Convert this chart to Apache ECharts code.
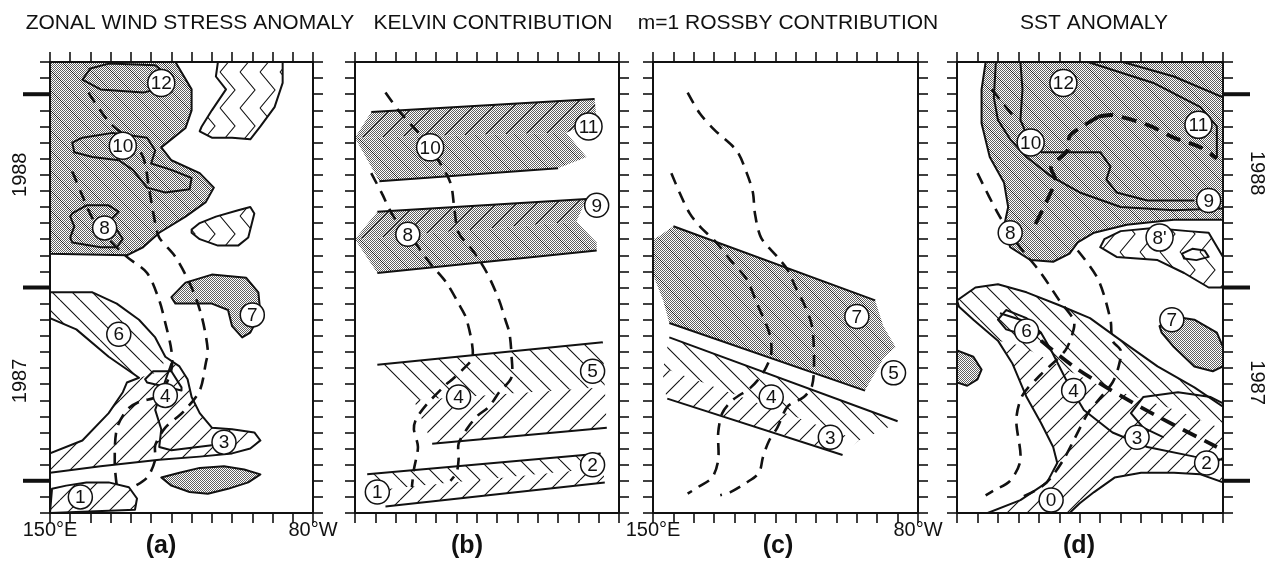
<!DOCTYPE html>
<html>
<head>
<meta charset="utf-8">
<script src="https://cdn.jsdelivr.net/npm/echarts@6/dist/echarts.min.js"></script>
<style>
  html, body { margin: 0; padding: 0; background: #fff; }
  #chart { width: 1265px; height: 562px; }
</style>
</head>
<body>
<div id="chart"></div>
<script>
// ---------------- axes / labels ----------------
const LON_MIN = 150, LON_MAX = 280, LON_STEP = 10;   // 150°E .. 80°W
const MON_MIN = -2, MON_MAX = 26, MON_STEP = 1;      // months counted from Jan 1987
const lonEnds = [[150, '150°E'], [280, '80°W']];
const yearStarts = [0, 12, 24];
const yearLabelsLeft = [[6.2, '1987'], [19.0, '1988']];
const yearLabelsRight = [[6.1, '1987'], [19.1, '1988']];
const panelTitles = ['ZONAL WIND STRESS ANOMALY', 'KELVIN CONTRIBUTION', 'm=1 ROSSBY CONTRIBUTION', 'SST ANOMALY'];
const panelLetters = ['(a)', '(b)', '(c)', '(d)'];

// ---------------- (a) zonal wind stress anomaly ----------------
const aShade = [[150,26.0],[212,26.0],[220,24.3],[220,23.0],[217,21.9],[205,20.7],[210,19.9],[224,19.1],[231,18.2],[227,17.3],[217,16.4],[204,15.4],[196,14.5],[188,14.0],[150,14.1]];
const aLoop12 = [[166,24.9],[170,25.6],[179,25.9],[202,25.8],[210,25.0],[206,24.4],[196,24.1],[175,24.3]];
const aLoop10 = [[161,21.0],[166,21.3],[181,21.6],[198,21.3],[202,20.5],[200,19.7],[210,19.3],[220,18.8],[219,18.1],[207,17.9],[198,18.2],[191,19.3],[184,19.9],[171,20.1],[162,20.4]];
const aLoop8 = [[161,16.6],[168,17.1],[179,17.1],[184,16.7],[180,16.2],[186,15.0],[183,14.5],[175,14.5],[161,14.8],[160,15.1],[162,15.8],[160,16.4]];
const aHatch = [[150,11.7],[158,11.7],[171,11.7],[183,11.0],[194,10.0],[202,8.9],[207,7.7],[214,7.1],[218,6.3],[220,5.2],[224,4.2],[230,3.3],[240,3.2],[251,3.0],[254,2.5],[249,2.0],[240,1.7],[224,1.5],[204,1.3],[175,0.9],[150,0.5]];
const aArm = [[150,11.7],[158,11.7],[171,11.7],[183,11.0],[194,10.0],[202,8.9],[207,7.7],[205,6.8],[194,6.4],[179,7.7],[163,9.4],[150,10.1]];
const aHole = [[150,10.1],[163,9.4],[179,7.7],[194,6.4],[188,6.1],[186,5.5],[179,4.2],[166,2.5],[150,1.7]];
const aLine3 = [[210,7.3],[202,4.4],[205,3.2],[204,2.1],[210,1.9],[230,2.2]];
const aLoop4 = [[197,6.3],[201,6.8],[210,6.8],[215,5.8],[215,5.6],[198,6.1]];
const aBlob1 = [[151,-0.5],[158,-0.3],[168,-0.1],[179,-0.1],[189,-0.4],[193,-1.1],[192,-1.8],[150,-2.0]];
const aLens = [[205,0.2],[214,0.5],[224,0.8],[236,0.9],[246,0.7],[254,0.4],[248,-0.1],[238,-0.5],[228,-0.8],[219,-0.7],[210,-0.3]];
const aBlob7 = [[210,11.4],[217,12.3],[230,12.8],[247,12.6],[253,11.7],[254,10.4],[249,9.2],[245,8.9],[240,9.6],[238,10.6],[230,11.0],[220,11.0],[212,11.0]];
const aBlobMid = [[220,15.6],[224,16.0],[232,16.4],[243,16.8],[249,17.0],[251,16.6],[248,15.1],[243,14.6],[233,14.6],[224,15.0],[220,15.4]];
const aBlobTop = [[233,26.0],[265,26.0],[265,24.7],[261,23.2],[254,22.0],[249,21.2],[240,21.3],[230,21.3],[224,21.7],[225,22.0],[230,23.0],[237,24.3],[232,25.1]];
const aDashW = [[161,19.2],[166,17.7],[171,16.3],[179,15.0],[188,13.9],[198,12.9],[204,11.2],[207,9.8],[210,8.1],[210,6.9],[204,5.3],[194,4.9],[188,4.4],[183,3.2],[182,1.1],[183,-0.3]];
const aDashE = [[169,24.1],[179,22.3],[189,21.2],[196,20.1],[199,18.1],[202,16.0],[204,15.1],[212,13.9],[220,12.0],[225,10.2],[228,8.1],[227,7.3],[224,5.6],[216,4.3],[207,3.3],[202,2.2],[202,1.3],[198,0.2],[191,-0.4]];
const aLabels = [[205,24.7,'12'],[186,20.8,'10'],[177,15.7,'8'],[250,10.3,'7'],[184,9.1,'6'],[207,5.3,'4'],[236,2.4,'3'],[165,-1.0,'1']];

// ---------------- (b) Kelvin contribution ----------------
const b11Up = [[158,22.9],[268,23.7],[269,22.4],[254,21.6],[150,21.3]];
const b11Lo = [[150,21.3],[254,21.6],[264,20.1],[250,19.4],[162,18.6]];
const b11Top = [[158,22.9],[268,23.7]];
const b11Bot = [[162,18.6],[250,19.4]];
const b9Up = [[161,16.7],[264,17.5],[259,16.1],[150,15.0]];
const b9Lo = [[150,15.0],[259,16.1],[269,14.8],[269,14.3],[161,12.9]];
const b9Top = [[161,16.7],[264,17.5]];
const b9Bot = [[161,12.9],[269,14.3]];
const b5Up = [[161,7.2],[272,8.6],[273,5.8],[179,5.0]];
const b5Lo = [[179,5.0],[273,5.8],[274,3.3],[188,2.3]];
const b5Top = [[161,7.2],[272,8.6]];
const b5Bot = [[188,2.3],[274,3.3]];
const b2Up = [[156,0.4],[271,1.7],[272,0.8],[158,-0.6]];
const b2Lo = [[158,-0.6],[272,0.8],[273,-0.1],[166,-1.6]];
const b2Top = [[156,0.4],[271,1.7]];
const b2Bot = [[165,-1.6],[273,-0.1]];
const bDashE = [[165,24.1],[172,22.9],[182,21.5],[190,20.1],[197,18.5],[199,16.8],[201,15.4],[208,14.3],[215,12.9],[221,11.2],[224,10.0],[226,9.2],[227,7.9],[227,6.4],[221,5.5],[216,4.6],[210,4.0],[205,3.2],[201,2.3],[201,1.3],[200,0.5],[197,0.0]];
const bDashW = [[158,19.1],[163,17.9],[169,16.4],[176,15.4],[187,13.5],[195,12.3],[201,11.0],[205,10.0],[208,7.7],[203,6.9],[198,6.3],[195,6.0],[185,4.7],[180,3.8],[179,3.2],[181,2.1],[179,0.7],[178,-0.4]];
const bLabels = [[265,22.0,'11'],[187,20.7,'10'],[269,17.1,'9'],[176,15.3,'8'],[267,6.8,'5'],[201,5.2,'4'],[267,1.0,'2'],[161,-0.7,'1']];

// ---------------- (c) m=1 Rossby contribution ----------------
const cShade = [[160,15.8],[259,11.2],[263,9.6],[269,8.3],[263,7.6],[254,5.6],[158,9.8],[155,11.2],[150,12.8],[150,15.0],[152,15.1]];
const cShadeTop = [[160,15.8],[259,11.2]];
const cShadeBot = [[158,9.8],[254,5.6]];
const cUp = [[158,8.9],[270,3.7],[265,3.3],[251,2.5],[155,7.0]];
const cLo = [[155,7.0],[251,2.5],[243,1.7],[157,5.1],[155,5.9]];
const cTop = [[158,8.9],[270,3.7]];
const cBot = [[157,5.1],[243,1.6]];
const cDashE = [[167,24.1],[173,22.8],[180,21.8],[191,20.5],[196,19.1],[199,17.9],[200,16.6],[203,15.1],[211,13.9],[216,13.1],[220,12.0],[224,11.0],[228,9.6],[229,7.3],[228,5.9],[224,5.2],[216,4.6],[211,3.3],[207,2.5],[204,1.5],[202,0.5],[196,-0.1],[188,-0.7],[183,-0.9]];
const cDashW = [[159,19.1],[163,17.9],[168,16.6],[173,15.8],[181,14.8],[188,13.7],[196,12.5],[201,11.0],[207,9.2],[208,7.9],[204,6.7],[198,5.8],[189,5.0],[184,4.2],[182,3.0],[182,1.3],[179,0.2],[172,-0.4],[167,-0.8]];
const cLabels = [[250,10.2,'7'],[268,6.7,'5'],[208,5.2,'4'],[237,2.7,'3']];

// ---------------- (d) SST anomaly ----------------
const dShade = [[164,26.0],[280,26.0],[280,16.2],[256,16.2],[233,15.9],[217,15.4],[209,14.8],[205,14.1],[197,13.6],[186,13.7],[176,14.5],[173,15.8],[175,17.0],[173,18.5],[166,20.1],[162,22.2],[162,24.3]];
const dC1 = [[181,26.0],[182,24.3],[181,22.4],[184,21.5]];
const dC2 = [[191,20.4],[220,20.4],[225,19.5],[223,18.7],[228,17.9],[243,17.4],[266,17.4]];
const dC3 = [[169,26.0],[168,23.8],[170,22.4],[176,21.2],[184,20.1],[196,18.9],[210,17.9],[230,17.0],[256,16.8],[280,16.9]];
const dC4 = [[214,26.0],[246,24.7],[269,23.2],[277,22.0],[277,20.1]];
const dC5 = [[231,26.0],[256,25.1],[280,23.8]];
const dDash11 = [[219,22.6],[226,22.7],[243,22.1],[256,21.3],[269,20.7],[277,20.0]];
const dDash10 = [[219,22.6],[210,21.9],[205,21.4],[204,20.5],[196,19.5],[198,18.7],[194,17.4],[187,15.6]];
const dDash12 = [[167,24.3],[179,22.4]];
const d8p = [[222,15.0],[230,15.5],[246,15.7],[263,15.5],[273,15.4],[280,13.9],[280,12.0],[273,12.0],[261,12.9],[248,13.7],[228,13.9],[220,14.5]];
const d8pLoop = [[260,14.1],[265,14.4],[271,14.3],[273,13.9],[267,13.7],[261,13.8]];
const dHatch = [[150,11.2],[159,12.0],[170,12.2],[184,11.7],[200,10.9],[215,10.1],[228,8.9],[248,7.1],[266,5.8],[280,4.6],[280,-0.1],[269,0.4],[256,0.5],[240,0.5],[227,0.2],[217,-0.7],[210,-1.4],[205,-2.0],[165,-2.0],[181,-1.2],[194,-0.1],[199,1.1],[197,2.1],[191,3.6],[184,5.2],[177,7.3],[170,8.7],[158,10.0],[151,10.8]];
const dTongue = [[150,11.2],[159,12.0],[170,12.2],[184,11.7],[200,10.9],[215,10.1],[228,8.9],[248,7.1],[266,5.8],[280,4.6],[280,3.2],[259,4.3],[240,5.1],[220,5.9],[205,6.8],[193,7.6],[181,8.4],[170,8.7],[158,10.0],[151,10.8]];
const dL1 = [[171,10.4],[181,10.0],[191,9.2],[196,8.1],[204,6.1],[212,4.4],[226,3.0],[243,2.1],[266,1.5],[280,1.3]];
const dL2 = [[251,2.7],[241,3.3],[235,4.2],[241,5.2],[258,5.5],[274,5.2],[280,4.8]];
const d6Loop = [[170,10.0],[174,10.6],[184,10.1],[191,9.2],[187,8.9],[174,9.4]];
const d7Blob = [[249,9.6],[256,10.2],[266,10.0],[277,9.2],[280,8.3],[280,7.1],[275,6.8],[266,7.1],[256,8.3],[250,9.2]];
const dWestBlob = [[150,8.1],[158,7.7],[162,6.9],[160,6.3],[155,5.9],[150,6.1]];
const dDashTrack = [[191,8.7],[207,7.1],[223,5.8],[248,4.0],[277,2.1]];
const dDashW = [[160,19.1],[170,16.6],[179,14.8],[191,12.9],[200,11.2],[207,10.0],[207,9.4],[203,8.1],[191,6.6],[182,5.3],[179,3.8],[181,1.3],[176,0.0],[168,-0.6],[164,-0.9]];
const dDashE = [[209,14.3],[219,12.5],[225,10.0],[226,8.7],[230,8.1],[229,7.1],[226,6.1],[219,5.0],[214,4.2],[207,2.5],[202,1.3],[196,0.2],[191,-0.4],[182,-1.0]];
const dLabels = [[202,24.7,'12'],[268,22.1,'11'],[186,21.0,'10'],[273,17.4,'9'],[176,15.4,'8'],[249,15.1,"8'"],[255,10.0,'7'],[184,9.3,'6'],[207,5.6,'4'],[238,2.7,'3'],[272,1.1,'2'],[196,-1.2,'0']];

// ---------------- styling ----------------
const INK = '#111';
const FONT = '"Liberation Sans", Arial, sans-serif';
const PANEL_LEFT = [50, 355, 653, 957];
const PANEL_WIDTH = [263, 264, 265, 266];
const PANEL_TOP = 62, PANEL_HEIGHT = 451;
const TITLE_X = [190, 493, 788, 1094];
const LETTER_X = [161, 467, 778, 1079];

function makeTile(w, h, paint) {
  const c = document.createElement('canvas');
  c.width = w; c.height = h;
  paint(c.getContext('2d'), w, h);
  return { image: c, repeat: 'repeat' };
}
function paintWhite(g, w, h) { g.fillStyle = '#fff'; g.fillRect(0, 0, w, h); }
function paintStipple(g, w, h) {
  paintWhite(g, w, h);
  g.fillStyle = '#606060';
  for (let y = 0; y < h; y++) for (let x = y % 2; x < w; x += 2) g.fillRect(x, y, 1, 1);
}
function paintDiag(dir, color, lw) {
  return (g, w, h) => {
    g.strokeStyle = color; g.lineWidth = lw; g.beginPath();
    for (let k = -1; k <= 1; k++) {
      if (dir > 0) { g.moveTo(k * w, h); g.lineTo(k * w + w, 0); }
      else { g.moveTo(k * w, 0); g.lineTo(k * w + w, h); }
    }
    g.stroke();
  };
}
function paintChevron(g, w, h) {
  g.strokeStyle = INK; g.lineWidth = 1.1; g.beginPath();
  for (let k = -1; k <= 1; k++) { g.moveTo(k * w, 0); g.lineTo(k * w + w * 0.75, h / 2); g.lineTo(k * w, h); }
  g.stroke();
}
const both = (...fs) => (g, w, h) => fs.forEach(f => f(g, w, h));
const PAT = {
  white: '#fff',
  stipple: makeTile(4, 4, paintStipple),
  stippleBack: makeTile(20, 20, both(paintStipple, paintDiag(-1, '#222', 1))),
  stippleFwd: makeTile(20, 20, both(paintStipple, paintDiag(1, '#222', 1))),
  back: makeTile(20, 20, both(paintWhite, paintDiag(-1, INK, 1.1))),
  fwd: makeTile(20, 20, both(paintWhite, paintDiag(1, INK, 1.1))),
  chev: makeTile(20, 36, both(paintWhite, paintChevron))
};

// what each panel draws
const panels = [
  {
    fills: [[aShade,'stippleBack'],[aHatch,'fwd'],[aArm,'back'],[aHole,'white'],[aBlob1,'fwd'],[aLens,'stipple'],[aBlob7,'stipple'],[aBlobMid,'chev'],[aBlobTop,'chev']],
    outlines: [aShade, aHatch, aHole, aBlob1, aLens, aBlob7, aBlobMid, aBlobTop, aLoop12, aLoop10, aLoop8, aLoop4],
    lines: [aLine3],
    dashed: [aDashW, aDashE],
    heavy: [],
    labels: aLabels
  },
  {
    fills: [[b11Up,'stippleFwd'],[b11Lo,'stippleBack'],[b9Up,'stippleFwd'],[b9Lo,'stippleBack'],[b5Up,'back'],[b5Lo,'fwd'],[b2Up,'back'],[b2Lo,'fwd']],
    outlines: [],
    lines: [b11Top, b11Bot, b9Top, b9Bot, b5Top, b5Bot, b2Top, b2Bot],
    dashed: [bDashE, bDashW],
    heavy: [],
    labels: bLabels
  },
  {
    fills: [[cShade,'stippleBack'],[cUp,'back'],[cLo,'fwd']],
    outlines: [],
    lines: [cShadeTop, cShadeBot, cTop, cBot],
    dashed: [cDashE, cDashW],
    heavy: [],
    labels: cLabels
  },
  {
    fills: [[dShade,'stippleBack'],[dHatch,'fwd'],[dTongue,'back'],[d8p,'chev'],[d7Blob,'stipple'],[dWestBlob,'stipple']],
    outlines: [dShade, dHatch, d8p, d7Blob, dWestBlob, d8pLoop, d6Loop],
    lines: [dC1, dC2, dC3, dC4, dC5, dL1, dL2],
    dashed: [dDash12, dDashW, dDashE],
    heavy: [dDash11, dDash10, dDashTrack],
    labels: dLabels
  }
];

// ---------------- renderers ----------------
const px = (api, pts) => pts.map(p => api.coord(p));
const renderFill = items => (params, api) => {
  const [pts, kind] = items[params.dataIndex];
  return { type: 'polygon', z2: params.dataIndex, shape: { points: px(api, pts) }, style: { fill: PAT[kind], stroke: null } };
};
const renderOutline = items => (params, api) => ({
  type: 'polygon', shape: { points: px(api, items[params.dataIndex]) },
  style: { fill: null, stroke: INK, lineWidth: 2, lineJoin: 'round' }
});
const renderLine = items => (params, api) => ({
  type: 'polyline', shape: { points: px(api, items[params.dataIndex]) },
  style: { fill: null, stroke: INK, lineWidth: 2, lineJoin: 'round' }
});
const renderDash = (items, width, dash) => (params, api) => ({
  type: 'polyline', shape: { points: px(api, items[params.dataIndex]), smooth: 0.3 },
  style: { fill: null, stroke: INK, lineWidth: width, lineDash: dash }
});
const renderLabel = items => (params, api) => {
  const [lon, m, t] = items[params.dataIndex];
  const [x, y] = api.coord([lon, m]);
  const r = t.length > 1 ? 13.5 : 12;
  return {
    type: 'group', children: [
      { type: 'circle', shape: { cx: x, cy: y, r }, style: { fill: '#fff', stroke: INK, lineWidth: 1.5 } },
      { type: 'text', x, y: y + 1, style: { text: t, font: '19px ' + FONT, fill: INK, align: 'center', verticalAlign: 'middle', textAlign: 'center', textVerticalAlign: 'middle' } }
    ]
  };
};
const renderYearTick = side => (params, api) => {
  const [x, y] = api.coord([side < 0 ? LON_MIN : LON_MAX, yearStarts[params.dataIndex]]);
  return { type: 'line', shape: { x1: x, y1: y, x2: x + side * 27, y2: y }, style: { stroke: INK, lineWidth: 4 } };
};
const renderYearLabel = (items, side, gap) => (params, api) => {
  const [m, t] = items[params.dataIndex];
  const [x, y] = api.coord([side < 0 ? LON_MIN : LON_MAX, m]);
  return {
    type: 'text', x: x + side * gap, y, rotation: side < 0 ? Math.PI / 2 : -Math.PI / 2,
    style: { text: t, font: '20px ' + FONT, fill: INK, align: 'center', verticalAlign: 'middle', textAlign: 'center', textVerticalAlign: 'middle' }
  };
};

function layer(p, items, renderItem, z, clip) {
  return {
    type: 'custom', coordinateSystem: 'cartesian2d', xAxisIndex: 2 * p, yAxisIndex: 2 * p,
    z, silent: true, animation: false, clip: clip !== false,
    data: items.map(() => [LON_MIN, MON_MIN]),
    renderItem
  };
}

// ---------------- option ----------------
const grids = [], xAxes = [], yAxes = [], series = [];
const lonText = v => { const e = lonEnds.find(d => d[0] === v); return e ? e[1] : ''; };
const axisLineStyle = { show: true, onZero: false, lineStyle: { color: INK, width: 2 } };
const tickStyle = { show: true, inside: false, length: 10, lineStyle: { color: INK, width: 1.6 } };

panels.forEach((pn, p) => {
  grids.push({ left: PANEL_LEFT[p], top: PANEL_TOP, width: PANEL_WIDTH[p], height: PANEL_HEIGHT, show: false });
  ['bottom', 'top'].forEach(pos => xAxes.push({
    gridIndex: p, type: 'value', position: pos, min: LON_MIN, max: LON_MAX, interval: LON_STEP, z: 10,
    axisLine: axisLineStyle, axisTick: tickStyle, splitLine: { show: false },
    axisLabel: {
      show: pos === 'bottom' && (p === 0 || p === 2), margin: 7, color: INK, fontSize: 20, fontFamily: FONT,
      showMinLabel: true, showMaxLabel: true, hideOverlap: false, formatter: lonText
    }
  }));
  ['left', 'right'].forEach(pos => yAxes.push({
    gridIndex: p, type: 'value', position: pos, min: MON_MIN, max: MON_MAX, interval: MON_STEP, z: 10,
    axisLine: axisLineStyle, axisTick: tickStyle, splitLine: { show: false }, axisLabel: { show: false }
  }));

  series.push(layer(p, pn.fills, renderFill(pn.fills), 1));
  series.push(layer(p, pn.outlines, renderOutline(pn.outlines), 2));
  series.push(layer(p, pn.lines, renderLine(pn.lines), 2));
  series.push(layer(p, pn.dashed, renderDash(pn.dashed, 2.6, [12, 8]), 3));
  series.push(layer(p, pn.heavy, renderDash(pn.heavy, 3.8, [15, 9]), 3));
  series.push(layer(p, pn.labels, renderLabel(pn.labels), 4, false));
});

// year markers on the outer edges
series.push(layer(0, yearStarts, renderYearTick(-1), 5, false));
series.push(layer(3, yearStarts, renderYearTick(1), 5, false));
series.push(layer(0, yearLabelsLeft, renderYearLabel(yearLabelsLeft, -1, 30), 5, false));
series.push(layer(3, yearLabelsRight, renderYearLabel(yearLabelsRight, 1, 34), 5, false));

const graphic = [];
panelTitles.forEach((t, i) => graphic.push({
  type: 'text', x: TITLE_X[i], y: 23,
  style: { text: t, font: '21px ' + FONT, fill: INK, align: 'center', verticalAlign: 'middle', textAlign: 'center', textVerticalAlign: 'middle' }
}));
panelLetters.forEach((t, i) => graphic.push({
  type: 'text', x: LETTER_X[i], y: 546,
  style: { text: t, font: 'bold 25px ' + FONT, fill: INK, align: 'center', verticalAlign: 'middle', textAlign: 'center', textVerticalAlign: 'middle' }
}));

const chart = echarts.init(document.getElementById('chart'), null, { renderer: 'canvas' });
chart.setOption({
  backgroundColor: '#fff',
  animation: false,
  grid: grids,
  xAxis: xAxes,
  yAxis: yAxes,
  series,
  graphic
});
</script>
</body>
</html>
